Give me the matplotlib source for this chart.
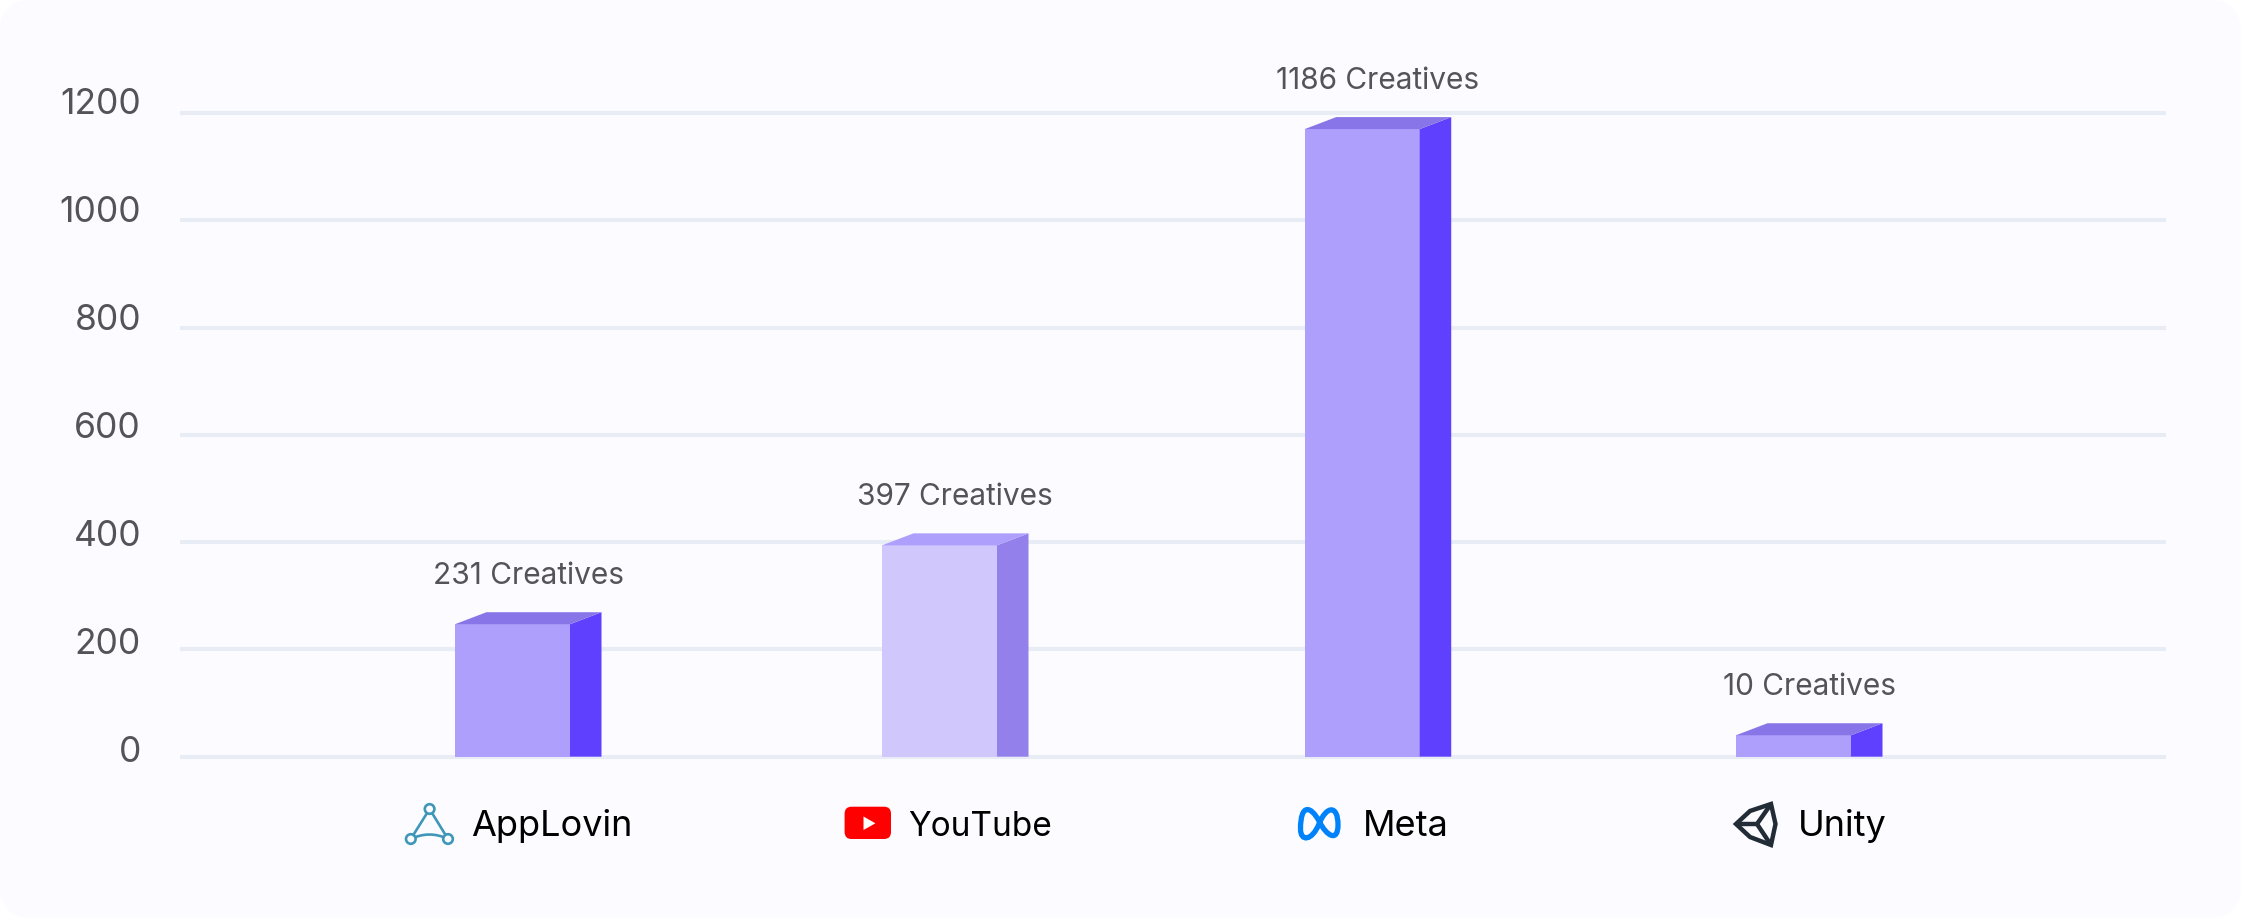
import matplotlib
matplotlib.use("Agg")
import matplotlib.pyplot as plt
from matplotlib.patches import FancyBboxPatch, Polygon, PathPatch, Circle
from matplotlib.path import Path
from matplotlib.transforms import ScaledTranslation

# ---- data ----
platforms = ["AppLovin", "YouTube", "Meta", "Unity"]
creatives = [231, 397, 1186, 10]          # printed on the labels
bar_heights = [247, 394, 1170, 40]        # as drawn against the axis
y_ticks = [0, 200, 400, 600, 800, 1000, 1200]

# ---- layout / style ----
W, H = 2241, 918
PX_L, PX_R, PX_T, PX_B = 180, 2166, 113, 756.7
X0, XSTEP = 512.5, 427
slots = [0, 1, 1.99, 3]
label_slots = [0.092, 1.096, 2.091, 3.114]
label_sizes = [26, 24, 26, 26]
BAR_W = 115 / XSTEP
DEPTH_X = 31.5 / XSTEP
DEPTH_Y = 12 * 1200 / (PX_B - PX_T)
FRONT, SIDE, TOP = "#AE9FFD", "#6040FF", "#8875E8"
FRONT2, SIDE2, TOP2 = "#D0C7FD", "#9380EB", "#AE9FFD"
CARD = "#FCFBFF"
GRID = "#E8ECF5"
TXT = "#545458"
FONT = "Inter"
plt.rcParams["font.family"] = [FONT, "DejaVu Sans"]

fig = plt.figure(figsize=(W / 100, H / 100), dpi=100, facecolor="white")

# rounded card
bg = fig.add_axes([0, 0, 1, 1], zorder=0)
bg.set_xlim(0, W); bg.set_ylim(H, 0); bg.axis("off")
bg.add_patch(FancyBboxPatch((0, 0), W, H, boxstyle="round,pad=0,rounding_size=32",
                            fc=CARD, ec="none"))

# chart
ax = fig.add_axes([PX_L / W, 1 - PX_B / H, (PX_R - PX_L) / W, (PX_B - PX_T) / H], zorder=1)
ax.patch.set_alpha(0)
ax.set_xlim((PX_L - X0) / XSTEP, (PX_R - X0) / XSTEP)
ax.set_ylim(0, 1200)
for s in ax.spines.values():
    s.set_visible(False)
ax.set_yticks(y_ticks)
ax.set_yticklabels([str(v) for v in y_ticks], fontsize=25.5, color=TXT)
ax.tick_params(axis="y", length=0, pad=28)
ax.grid(axis="y", color=GRID, lw=2.9, zorder=1)
for gl in ax.get_ygridlines():
    gl.set_clip_on(False)
    gl.set_solid_capstyle("butt")
ax.set_axisbelow(True)
ax.set_xticks(label_slots)
ax.set_xticklabels(platforms, color="black")
ax.tick_params(axis="x", length=0, pad=57)
for lab, size in zip(ax.get_xticklabels(), label_sizes):
    lab.set_va("baseline")
    lab.set_fontsize(size)
for lab, v in zip(ax.get_yticklabels(), y_ticks):
    off = (7.5 + 4 * v / 1200) * 0.72
    lab.set_transform(lab.get_transform() + ScaledTranslation(0, off / 72, fig.dpi_scale_trans))

for i, (x, h, n) in enumerate(zip(slots, bar_heights, creatives)):
    f, sd, tp = (FRONT2, SIDE2, TOP2) if i == 1 else (FRONT, SIDE, TOP)
    l, r = x - BAR_W / 2, x + BAR_W / 2
    ax.bar(x, h, width=BAR_W, color=f, linewidth=0, zorder=3)
    ax.add_patch(Polygon([(r, 0), (r + DEPTH_X, 0), (r + DEPTH_X, h + DEPTH_Y), (r, h)],
                         fc=sd, ec="none", zorder=3))
    ax.add_patch(Polygon([(l, h), (r, h), (r + DEPTH_X, h + DEPTH_Y), (l + DEPTH_X, h + DEPTH_Y)],
                         fc=tp, ec="none", zorder=3, clip_on=False))
    ax.annotate(f"{n} Creatives", (x + DEPTH_X / 2, h + DEPTH_Y), xytext=(0, 36 * 0.72),
                textcoords="offset points", ha="center", va="center",
                fontsize=21.5, color=TXT, annotation_clip=False)

# platform icons (pixel overlay)
ic = fig.add_axes([0, 0, 1, 1], zorder=2)
ic.set_xlim(0, W); ic.set_ylim(H, 0); ic.axis("off"); ic.patch.set_alpha(0)

# AppLovin
AL = "#3F97B8"
pts = [(429.6, 809), (410.8, 839), (448, 839)]
ic.plot([pts[1][0], pts[0][0], pts[2][0]], [pts[1][1], pts[0][1], pts[2][1]], color=AL, lw=1.9)
ic.add_patch(PathPatch(Path([pts[1], (429.6, 830), pts[2]], [Path.MOVETO, Path.CURVE3, Path.CURVE3]),
                       fc="none", ec=AL, lw=1.9))
for p in pts:
    ic.add_patch(Circle(p, 4.8, fc=CARD, ec=AL, lw=1.9, zorder=3))

# YouTube
ic.add_patch(FancyBboxPatch((844.6, 806.7), 46.4, 32.3, boxstyle="round,pad=0,rounding_size=7",
                            fc="#FF0000", ec="none"))
ic.add_patch(Polygon([(863.5, 816.5), (875.4, 823.3), (863.5, 830)], fc="white", ec="none"))

# Meta
C4 = Path.CURVE4
verts = [(1300.5, 829), (1300.5, 803), (1311, 806), (1319, 821),
         (1327, 837), (1338, 842), (1338, 825),
         (1338, 804), (1326, 806), (1319, 824),
         (1312, 841), (1300.5, 842), (1300.5, 829)]
codes = [Path.MOVETO] + [C4] * 12
ic.add_patch(PathPatch(Path(verts, codes), fc="none", ec="#0082FB", lw=3.8))

# Unity
UN = "#222C37"
outline = [(1736, 824), (1750, 811), (1771, 804), (1775.5, 824), (1771, 845), (1750, 837)]
ic.add_patch(Polygon(outline, closed=True, fc="none", ec=UN, lw=3.2, joinstyle="miter"))
for p in [(1736, 824), (1771, 804), (1771, 845)]:
    ic.plot([1757, p[0]], [824, p[1]], color=UN, lw=3.2, solid_capstyle="butt")

fig.savefig("out.png", dpi=100, facecolor=fig.get_facecolor())
